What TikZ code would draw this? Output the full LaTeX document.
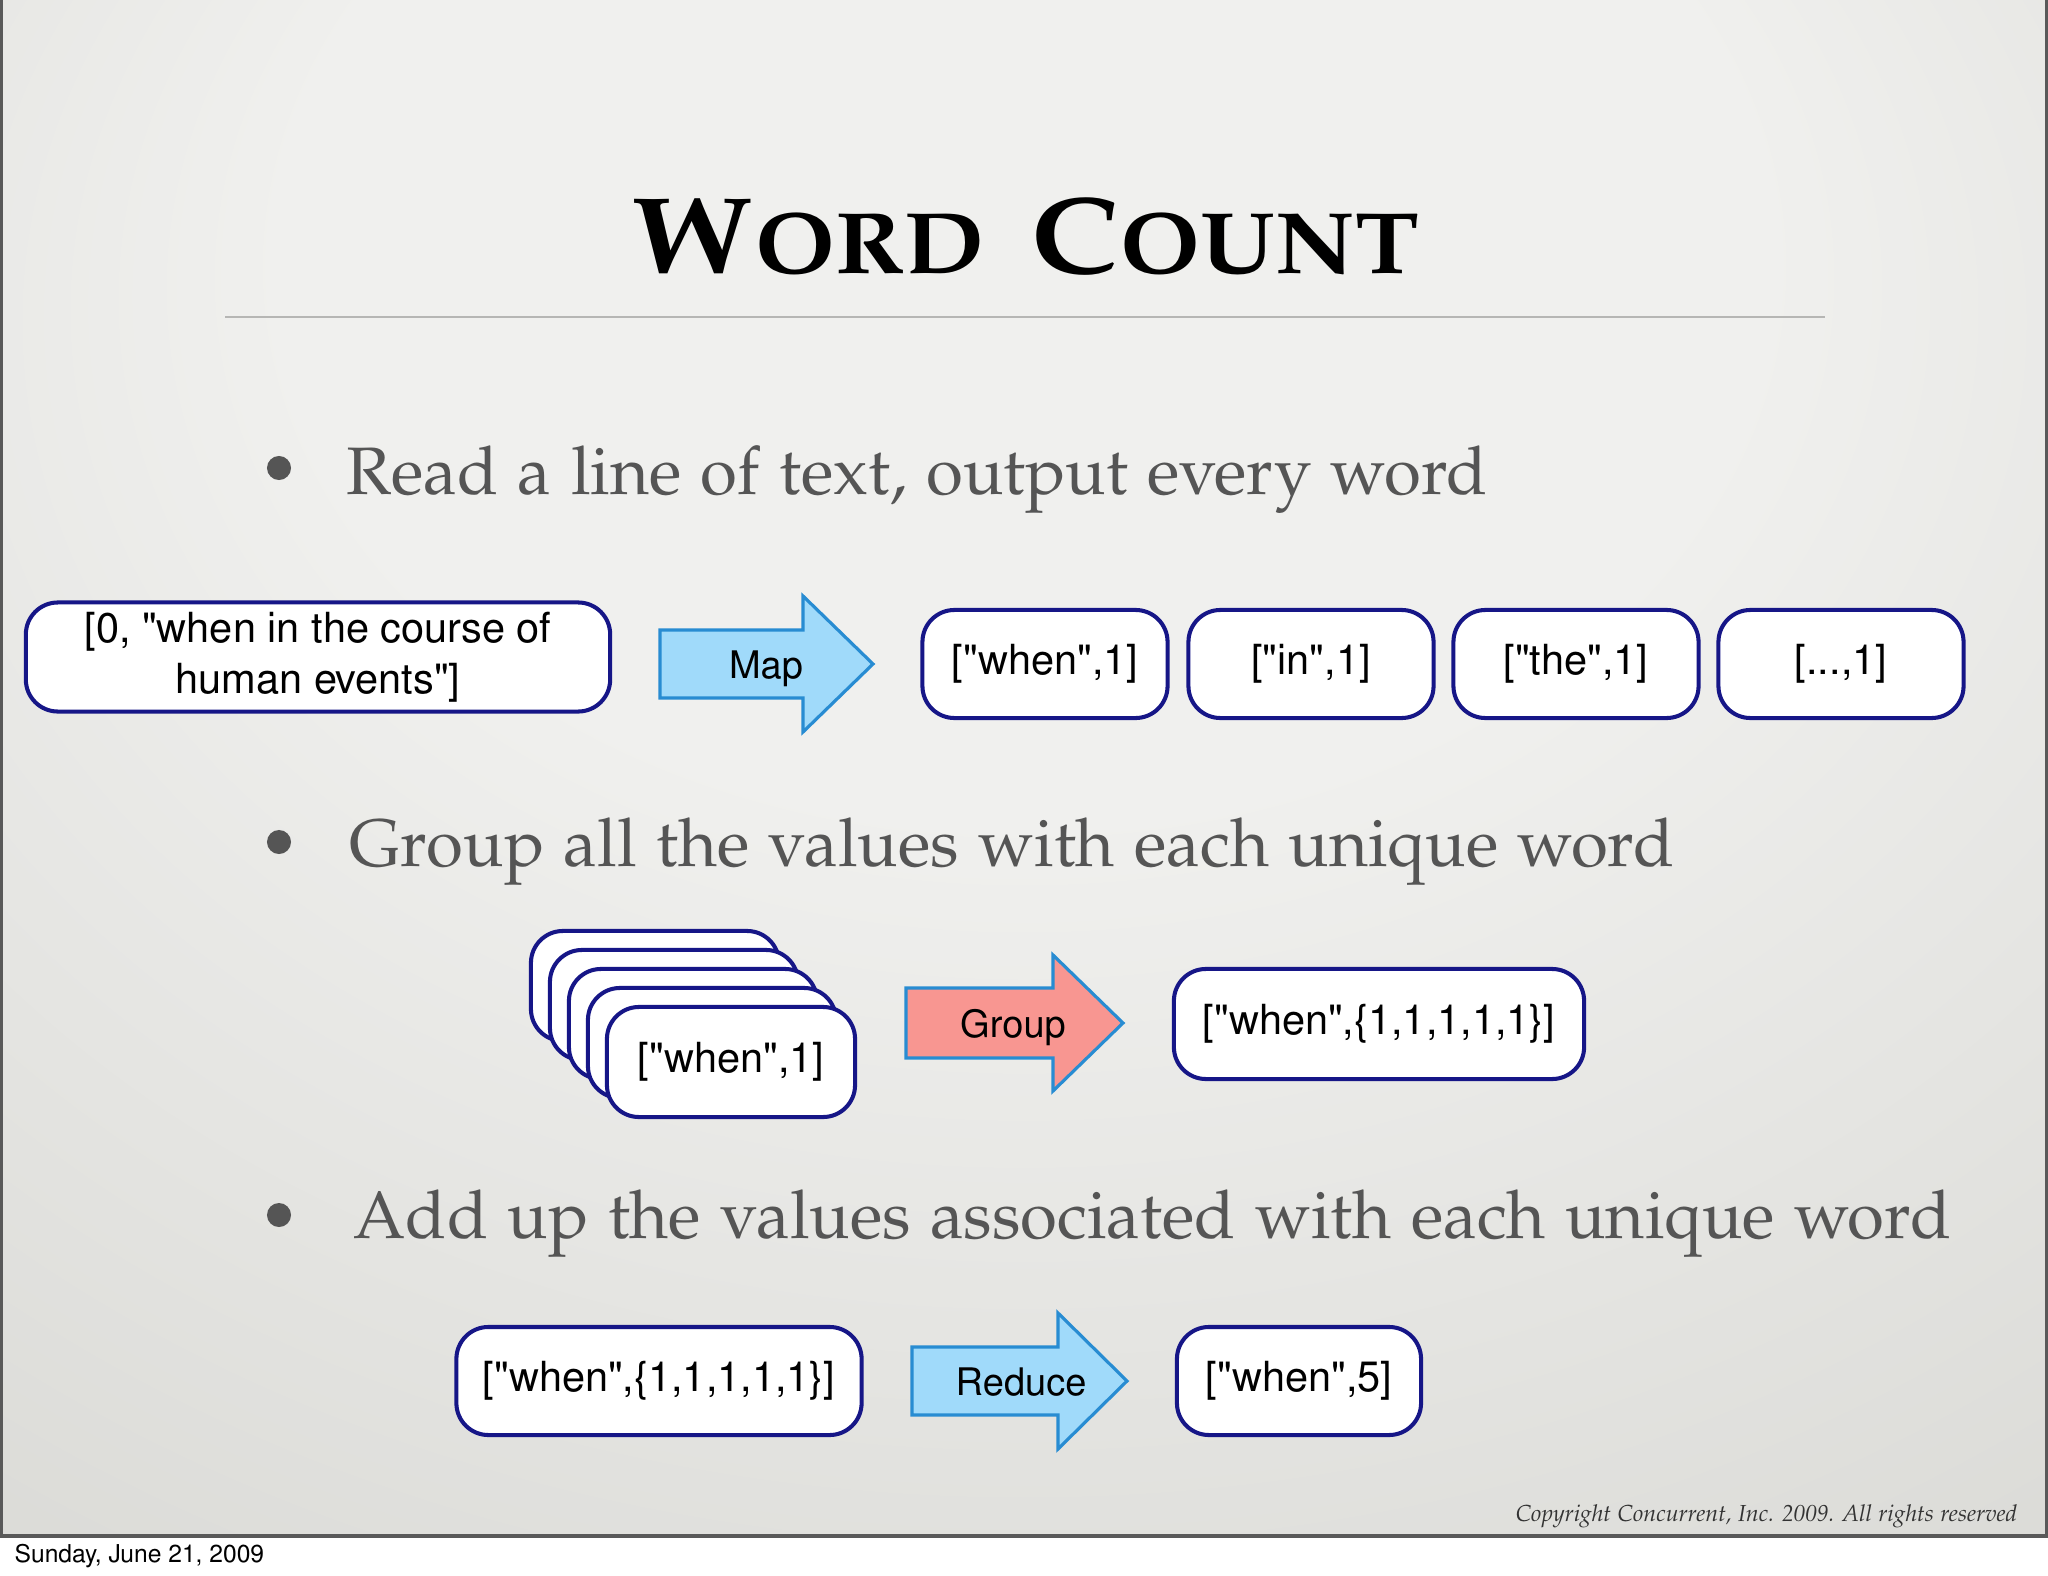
\documentclass[tikz,border=0pt]{standalone}
\usepackage[T1]{fontenc}
\usepackage{mathpazo}
\usepackage{helvet}

\definecolor{bglight}{RGB}{240,240,238}
\definecolor{bgdark}{RGB}{194,194,188}
\definecolor{slidetext}{RGB}{85,85,85}
\definecolor{rulegray}{RGB}{182,182,180}
\definecolor{boxnavy}{RGB}{22,22,135}
\definecolor{arrowedge}{RGB}{40,140,210}
\definecolor{mapblue}{RGB}{160,218,250}
\definecolor{groupred}{RGB}{248,150,145}

\pgfdeclareradialshading{slidebg}{\pgfpoint{0bp}{22bp}}{color(0bp)=(bglight); color(18bp)=(bglight); color(72bp)=(bgdark)}

\newcommand{\boxfont}{\fontfamily{phv}\fontsize{11.8}{14.4}\selectfont}
\newcommand{\lblfont}{\fontfamily{phv}\fontsize{10.8}{13}\selectfont}
\newcommand{\bulfont}{\fontfamily{pplx}\fontsize{19.1}{23}\selectfont}
\newcommand{\capsc}[2]{{\fontsize{31}{36}\selectfont #1}\kern0.08em{\fontsize{24.8}{30}\selectfont #2}}

\tikzset{
  pair/.style={draw=boxnavy, line width=1.15pt, fill=white, rounded corners=0.32cm,
    minimum height=1.08cm, inner sep=0pt, font=\boxfont, align=center},
  blockarr/.style={draw=arrowedge, line width=0.9pt, line join=miter},
  lbl/.style={font=\lblfont, inner sep=0pt, anchor=base},
  bullettext/.style={font=\bulfont, text=slidetext, anchor=base west, inner sep=0pt},
  dot/.style={circle, fill=slidetext, minimum size=0.24cm, inner sep=0pt}
}

\begin{document}
\begin{tikzpicture}[x=0.01cm, y=-0.01cm]
  \useasboundingbox (0,0) rectangle (2048,1576);
  \fill[white] (0,0) rectangle (2048,1576);
  % slide
  \shade[shading=slidebg] (0,0) rectangle (2048,1536);
  \draw[black!65, line width=0.9pt] (1,0) -- (1,1536) -- (2047,1536) -- (2047,0);

  % title
  \node[anchor=base, inner sep=0pt] (title) at (1026,274)
    {\fontfamily{pplx}\fontseries{b}\selectfont\scalebox{1.1}[1]{\capsc{W}{ORD}\hspace{12pt}\capsc{C}{OUNT}}};
  \coordinate (rulel) at (225,317);
  \coordinate (ruler) at (1825,317);
  \draw[rulegray, line width=0.8pt] (rulel) -- (ruler);

  % map
  \node[dot] (b1) at (279,468) {};
  \node[bullettext] (t1) at (346,494) {Read a line of text, output every word};
  \node[pair, minimum width=5.84cm, minimum height=1.09cm] (line) at (318,657)
    {[0, "when in the course of\\human events"]};
  \draw[blockarr, fill=mapblue] (660,630) -- (803,630) -- (803,596) -- (873,664)
    -- (803,732) -- (803,698) -- (660,698) -- cycle;
  \node[lbl] (maplbl) at (766,678) {Map};
  \node[pair, minimum width=2.45cm] (w1) at (1045,664) {["when",1]};
  \node[pair, minimum width=2.45cm] (w2) at (1311,664) {["in",1]};
  \node[pair, minimum width=2.45cm] (w3) at (1576,664) {["the",1]};
  \node[pair, minimum width=2.45cm] (w4) at (1841,664) {[...,1]};

  % group
  \node[dot] (b2) at (279,842) {};
  \node[bullettext] (t2) at (349,866) {Group all the values with each unique word};
  \foreach \i in {4,3,2,1}
    \node[pair, minimum width=2.48cm, minimum height=1.10cm] (stack\i)
      at ({731-19*\i},{1062-19*\i}) {};
  \node[pair, minimum width=2.48cm, minimum height=1.10cm] (grpin) at (731,1062) {["when",1]};
  \draw[blockarr, fill=groupred] (906,988) -- (1053,988) -- (1053,955) -- (1123,1023)
    -- (1053,1091) -- (1053,1058) -- (906,1058) -- cycle;
  \node[lbl] (grouplbl) at (1013,1037) {Group};
  \node[pair, minimum width=4.10cm, minimum height=1.10cm] (grpout) at (1379,1024)
    {["when",\{1,1,1,1,1\}]};

  % reduce
  \node[dot] (b3) at (279,1215) {};
  \node[bullettext] (t3) at (353,1238) {Add up the values associated with each unique word};
  \node[pair, minimum width=4.05cm] (redin) at (659,1381) {["when",\{1,1,1,1,1\}]};
  \draw[blockarr, fill=mapblue] (912,1347) -- (1058,1347) -- (1058,1313) -- (1127,1381)
    -- (1058,1449) -- (1058,1415) -- (912,1415) -- cycle;
  \node[lbl] (reducelbl) at (1021,1395) {Reduce};
  \node[pair, minimum width=2.44cm] (redout) at (1299,1381) {["when",5]};

  % footer
  \node[anchor=base east, inner sep=0pt, text=black!80] (copy) at (2018,1521)
    {\fontfamily{pplx}\itshape\fontsize{6.6}{8}\selectfont Copyright Concurrent, Inc. 2009. All rights reserved};
  \node[anchor=base west, inner sep=0pt] (date) at (14,1562)
    {\fontfamily{phv}\fontsize{7}{8.4}\selectfont Sunday, June 21, 2009};
\end{tikzpicture}
\end{document}
